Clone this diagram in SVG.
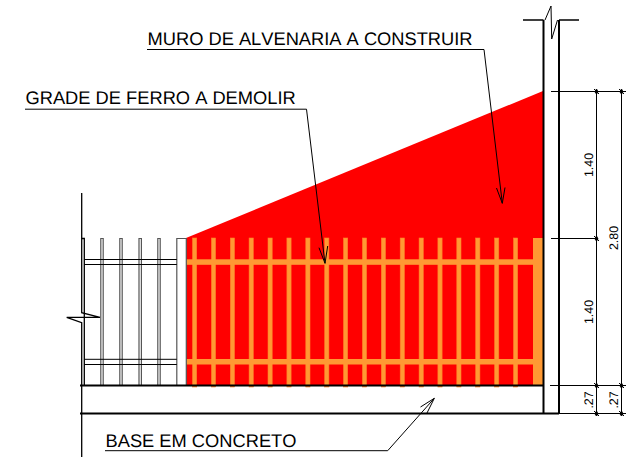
<svg xmlns="http://www.w3.org/2000/svg" width="637" height="462" viewBox="0 0 637 462">
<style>
text{font-family:"Liberation Sans",Arial,sans-serif;fill:#000;text-rendering:geometricPrecision;font-kerning:none}
.lb{font-size:18.3px}
.dm{font-size:12.4px;text-anchor:middle}
.thin{fill:none;stroke:#000;stroke-width:1}
.med{fill:none;stroke:#000;stroke-width:1.3}
.thick{fill:none;stroke:#000;stroke-width:2}
.gp{fill:#fff;stroke:#555;stroke-width:1.2}
.og{fill:#ff9933}
</style>
<defs>
<path id="tick" d="M-2.5 -2.5L2.5 2.5M-1.5 0.5L0 -2.5L1.5 0.5L0 2.5Z" fill="#000" stroke="#000" stroke-width="1"/>
<rect id="post" x="-2.1" y="238" width="4.2" height="149" fill="#ff9933" stroke="#ff7f27" stroke-width="0.6"/>
</defs>
<g id="masonry-wall"><polygon points="186,238 543,91 543,385.5 186,385.5" fill="#ff0000"/></g>
<g id="iron-fence-demolish">
<use href="#post" x="194.6"/><use href="#post" x="213.5"/><use href="#post" x="232.4"/><use href="#post" x="251.2"/><use href="#post" x="270.1"/><use href="#post" x="289"/><use href="#post" x="307.9"/><use href="#post" x="326.8"/><use href="#post" x="345.6"/><use href="#post" x="364.5"/><use href="#post" x="383.4"/><use href="#post" x="402.3"/><use href="#post" x="421.2"/><use href="#post" x="440"/><use href="#post" x="458.9"/><use href="#post" x="477.8"/><use href="#post" x="496.7"/><use href="#post" x="515.6"/>
<rect class="og" x="186" y="259.3" width="347.5" height="5.5"/>
<rect class="og" x="186" y="359" width="347.5" height="5.5"/>
<rect class="og" x="533" y="238" width="10" height="147.5"/>
</g>
<g id="iron-fence-keep">
<path class="gp" d="M100.8 385V238.5H103.2V385M119.8 385V238.5H122.2V385M139 385V238.5H141.4V385M157.8 385V238.5H160.2V385M176.8 385V238.5H186.3V385"/>
<path class="thin" stroke="#333" d="M84 259.5H176.8M84 264.5H176.8M84 359.3H176.8M84 364.5H176.8"/>
<path class="med" d="M81.7 238.5H84.3V385"/>
</g>
<g id="wall">
<path class="thick" d="M543.5 20V413.5M559 20V413.5"/>
<path class="med" d="M523 20H543.5M559 20H579"/>
<path class="thin" d="M545 20L551 6L551.7 39L557.5 20"/>
</g>
<g id="base">
<path class="thick" d="M80 385.5H543.5M80 413.5H559"/>
<path class="med" d="M81.7 193V312.7L100 317.3H66.7L81.7 322.7V457"/>
</g>
<g id="dimensions">
<path class="thin" d="M551 91.5H626M551 238.5H598M550 385.5H626M559 413.5H626M596.5 91.5V414M621.5 91.5V414"/>
<use href="#tick" x="596.5" y="91.5"/><use href="#tick" x="621.5" y="91.5"/><use href="#tick" x="596.5" y="238.5"/><use href="#tick" x="596.5" y="385.5"/><use href="#tick" x="621.5" y="385.5"/><use href="#tick" x="596.5" y="413.5"/><use href="#tick" x="621.5" y="413.5"/>
<text class="dm" transform="translate(593,165) rotate(-90)">1.40</text>
<text class="dm" transform="translate(593,312) rotate(-90)">1.40</text>
<text class="dm" transform="translate(618.3,238) rotate(-90)">2.80</text>
<text class="dm" transform="translate(593,400) rotate(-90)">.27</text>
<text class="dm" transform="translate(618.3,400) rotate(-90)">.27</text>
</g>
<g id="connectors">
<path class="thin" d="M147 49.5H484L502.3 203.3M496.5 188L502.3 203.3L505 187.5"/>
<path class="thin" d="M25 109.2H306.5L325 263.3M319 247.7L325 263.3L327.7 246"/>
<path class="thin" d="M105 450.7H387.7L434.3 398.3M420.5 407L434.3 398.3L427 413"/>
</g>
<g id="labels">
<text class="lb" x="147.5" y="45">MURO DE ALVENARIA A CONSTRUIR</text>
<text class="lb" x="25.5" y="104.4">GRADE DE FERRO A DEMOLIR</text>
<text class="lb" x="105.5" y="447">BASE EM CONCRETO</text>
</g>
</svg>
